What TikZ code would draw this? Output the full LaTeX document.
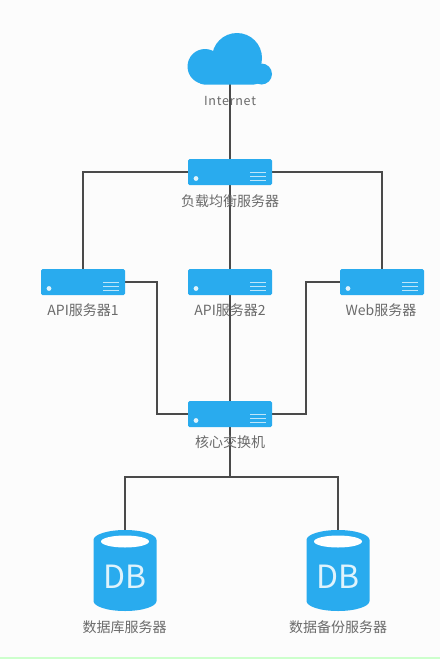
\documentclass[tikz,border=0pt]{standalone}
\usepackage{fontspec}
\setmainfont{Noto Sans CJK SC}
\usetikzlibrary{backgrounds}
\definecolor{netblue}{HTML}{29ABEE}
\definecolor{linegray}{HTML}{4A4A4A}
\definecolor{labelgray}{HTML}{6A6A6A}
\tikzset{
  server/.style={fill=netblue,rounded corners=1.5pt,minimum width=84pt,minimum height=26pt,inner sep=0pt,outer sep=0pt},
  anchorbox/.style={minimum width=#1,inner sep=0pt,outer sep=0pt},
  wire/.style={draw=linegray,line width=2pt},
  lbl/.style={text=labelgray,font=\fontsize{14}{16}\selectfont,inner sep=0pt},
}
\newcommand{\serverdetail}[1]{%
  \fill[white!85!netblue] ([shift={(8,-6.5)}]#1.south west) circle (2.4pt);
  \foreach \dy in {-4.5,-8.5,-12.5}
    \draw[white!70!netblue,line width=1pt] ([shift={(-22,\dy)}]#1.south east) -- ([shift={(-6,\dy)}]#1.south east);
}
\newcommand{\dbshape}[1]{%
  \fill[netblue] ([shift={(-31.5,10)}]#1.north) arc[start angle=180,end angle=0,x radius=31.5pt,y radius=10pt]
     -- ([shift={(31.5,-10)}]#1.south) arc[start angle=0,end angle=-180,x radius=31.5pt,y radius=10pt] -- cycle;
  \fill[white] ([yshift=-11.5pt]#1.north) ellipse[x radius=24pt,y radius=6pt];
  \node[text=white!85!netblue,font=\fontsize{32}{34}\selectfont\addfontfeature{LetterSpace=3},inner sep=0pt] at ([yshift=-47pt]#1.north) {DB};
}
\begin{document}
\begin{tikzpicture}[x=1pt,y=-1pt]
\useasboundingbox (0,0) rectangle (440,659);
% nodes
\node[anchorbox=84pt,minimum height=52pt] (cloud) at (230,58) {};
\node[server] (lb) at (230,172) {};
\node[server] (api1) at (83,282) {};
\node[server] (api2) at (230,282) {};
\node[server] (web) at (382,282) {};
\node[server] (core) at (230,414) {};
\node[anchorbox=63pt,minimum height=81pt] (db1) at (125,570.5) {};
\node[anchorbox=63pt,minimum height=81pt] (db2) at (338,570.5) {};
% page and connectors behind the icons
\begin{scope}[on background layer]
\fill[white!99!black] (0,0) rectangle (440,659);
\fill[green!20] (0,656.5) rectangle (440,659);
\draw[wire] (cloud.south) -- (lb.north);
\draw[wire] (lb.west) -| (api1.north);
\draw[wire] (lb.east) -| (web.north);
\draw[wire] (lb.south) -- (api2.north);
\draw[wire] (api2.south) -- (core.north);
\draw[wire] (api1.east) -- ++(32,0) |- (core.west);
\draw[wire] (web.west) -- ++(-34,0) |- (core.east);
\draw[wire] (core.south) -- ++(0,50) -| (db1.north);
\draw[wire] (core.south) -- ++(0,50) -| (db2.north);
\end{scope}
% cloud
\fill[netblue] (237,58) circle (25pt);
\fill[netblue] (205,66.5) circle (17.5pt);
\fill[netblue] (261.5,74) circle (10.5pt);
\fill[netblue,rounded corners=8pt] (196,60) rectangle (262,84.5);
% server details
\serverdetail{lb}
\serverdetail{api1}
\serverdetail{api2}
\serverdetail{web}
\serverdetail{core}
\dbshape{db1}
\dbshape{db2}
% labels
\node[lbl,font=\fontsize{12.5}{14}\selectfont\addfontfeature{LetterSpace=6}] (tint) at (230,101) {Internet};
\node[lbl] (tlb) at (230,201) {负载均衡服务器};
\node[lbl] (tapi1) at (83,310) {API服务器1};
\node[lbl] (tapi2) at (230,310) {API服务器2};
\node[lbl] (tweb) at (381,310) {Web服务器};
\node[lbl] (tcore) at (230,442) {核心交换机};
\node[lbl] (tdb1) at (124.5,627) {数据库服务器};
\node[lbl] (tdb2) at (338,627) {数据备份服务器};
\end{tikzpicture}
\end{document}
